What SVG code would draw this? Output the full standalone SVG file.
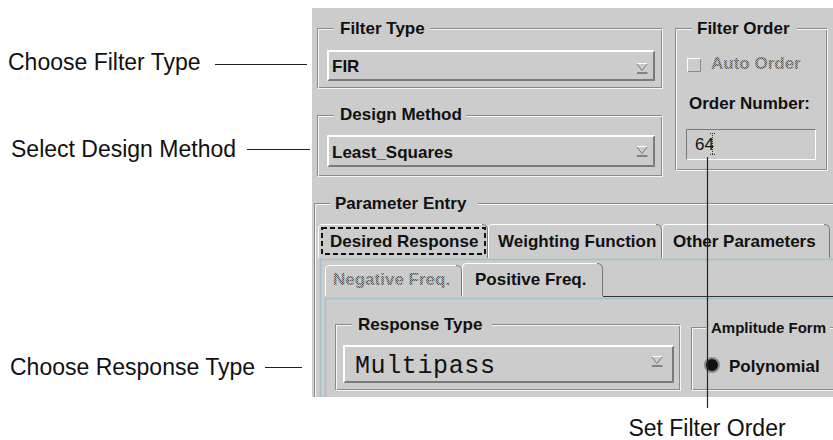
<svg xmlns="http://www.w3.org/2000/svg" width="833" height="440" viewBox="0 0 833 440">
<style>
.lbl{font-family:"Liberation Sans",Arial,sans-serif;font-size:23px;fill:#111}
.ui{font-family:"Liberation Sans",Arial,sans-serif;font-size:17px;font-weight:bold;fill:#111}
.uin{font-family:"Liberation Sans",Arial,sans-serif;font-size:17px;fill:#111}
.gray{font-family:"Liberation Sans",Arial,sans-serif;font-size:17px;font-weight:bold;fill:url(#stip)}
.mono{font-family:"Liberation Mono","Courier New",monospace;font-size:25px;fill:#111}
.ed{fill:none;stroke:#8a8a8a;stroke-width:1}
.el{fill:none;stroke:#f6f6f6;stroke-width:1}
.hi{fill:none;stroke:#ffffff;stroke-width:1}
.sh{fill:none;stroke:#7a7a7a;stroke-width:1}
.bg{fill:#cccccc}
.blue{fill:none;stroke:#a3c0cc;stroke-width:1.5}
.conn{fill:none;stroke:#222;stroke-width:1.2}
</style>
<defs>
<pattern id="stip" width="2" height="2" patternUnits="userSpaceOnUse">
<rect width="2" height="2" fill="#b0b0b0"/>
<rect width="1" height="1" fill="#555"/>
<rect x="1" y="1" width="1" height="1" fill="#555"/>
</pattern>
<g id="arrow">
<path d="M0,0 H11 L5.5,7 Z" fill="none" stroke="#7a7a7a"/>
<path d="M0,0 H11" stroke="#fff"/>
<path d="M0.5,9.5 H11" stroke="#6a6a6a" stroke-width="1.5"/>
</g>
</defs>

<rect x="312" y="8" width="521" height="389" class="bg"/>

<g id="filter-type">
<rect x="317.5" y="28.5" width="344" height="59" class="ed"/>
<rect x="318.5" y="29.5" width="344" height="59" class="el"/>
<rect x="334" y="20" width="96" height="16" class="bg"/>
<text x="340" y="34" class="ui">Filter Type</text>
<rect x="327" y="50" width="328" height="31" class="bg"/>
<path d="M327.5,80.5 V50.5 H654.5 M328.5,79.5 V51.5 H653.5" class="hi"/>
<path d="M328,80.5 H654.5 V51 M329,79.5 H653.5 V52" class="sh"/>
<text x="332" y="72" class="ui">FIR</text>
<use href="#arrow" x="636.5" y="63.5"/>
</g>

<g id="design-method">
<rect x="317.5" y="115.5" width="344" height="60" class="ed"/>
<rect x="318.5" y="116.5" width="344" height="60" class="el"/>
<rect x="334" y="106" width="132" height="16" class="bg"/>
<text x="340" y="120" class="ui">Design Method</text>
<rect x="327" y="135" width="328" height="32" class="bg"/>
<path d="M327.5,166.5 V135.5 H654.5 M328.5,165.5 V136.5 H653.5" class="hi"/>
<path d="M328,166.5 H654.5 V136 M329,165.5 H653.5 V137" class="sh"/>
<text x="332" y="158" class="ui">Least_Squares</text>
<use href="#arrow" x="636.5" y="146.5"/>
</g>

<g id="filter-order">
<rect x="675.5" y="28.5" width="151" height="141" class="ed"/>
<rect x="676.5" y="29.5" width="151" height="141" class="el"/>
<rect x="692" y="20" width="105" height="16" class="bg"/>
<text x="697" y="34" class="ui">Filter Order</text>
<rect x="687" y="58" width="14" height="14" class="bg"/>
<path d="M687.5,71.5 V58.5 H700.5" stroke="#fff" fill="none"/>
<path d="M688,71.5 H700.5 V59" stroke="#8a8a8a" fill="none"/>
<text x="711" y="69" class="gray">Auto Order</text>
<text x="689" y="109" class="ui">Order Number:</text>
<rect x="686" y="129" width="130" height="31" class="bg"/>
<path d="M686.5,159.5 V129.5 H815.5" class="sh"/>
<path d="M687,159.5 H815.5 V130" class="hi"/>
<text x="695" y="150" class="uin">64</text>
<path d="M712.5,133 V155 M710,133.5 H715 M710,154.5 H715" stroke="#333" stroke-dasharray="1,1" fill="none"/>
</g>

<g id="parameter-entry">
<path d="M314.5,397 V203.5 H833" class="ed"/>
<path d="M315.5,397 V204.5 H833" class="el"/>
<rect x="330" y="195" width="148" height="16" class="bg"/>
<text x="335" y="209" class="ui">Parameter Entry</text>
</g>

<g id="tabs-main">
<path d="M318.5,258 V228 Q318.5,224.5 322,224.5 H482" class="hi"/>
<path d="M482,224.5 Q487.5,224.5 487.5,230 V258" class="sh"/>
<path d="M488.5,258 V228 Q488.5,224.5 492,224.5 H656" class="hi"/>
<path d="M656,224.5 Q661.5,224.5 661.5,230 V258" class="sh"/>
<path d="M662.5,258 V228 Q662.5,224.5 666,224.5 H824" class="hi"/>
<path d="M824,224.5 Q829.5,224.5 829.5,230 V258" class="sh"/>
<rect x="322" y="228" width="163" height="26" fill="none" stroke="#111" stroke-width="2" stroke-dasharray="5,3"/>
<text x="330" y="247" class="ui">Desired Response</text>
<text x="498" y="247" class="ui">Weighting Function</text>
<text x="673" y="247" class="ui">Other Parameters</text>
<path d="M320,259.5 H833 M320.5,259 V397" class="blue"/>
</g>

<g id="tabs-freq">
<path d="M325.5,296 V269 Q325.5,265.5 329,265.5 H456" class="hi"/>
<path d="M456,265.5 Q461.5,265.5 461.5,271 V296" class="sh"/>
<path d="M462.5,296 V267 Q462.5,263.5 466,263.5 H597" class="hi"/>
<path d="M597,263.5 Q602.5,263.5 602.5,269 V296" class="sh"/>
<text x="333" y="285" class="gray">Negative Freq.</text>
<text x="475" y="285" class="ui">Positive Freq.</text>
<path d="M603,296.5 H833" stroke="#333" fill="none"/>
<path d="M325,298.5 H833 M325.5,298 V397" class="blue"/>
</g>

<g id="response-type">
<rect x="335.5" y="324.5" width="344" height="65" class="ed"/>
<rect x="336.5" y="325.5" width="344" height="65" class="el"/>
<rect x="352" y="316" width="140" height="16" class="bg"/>
<text x="358" y="330" class="ui">Response Type</text>
<rect x="343" y="345" width="331" height="38" class="bg"/>
<path d="M343.5,382.5 V345.5 H673.5 M344.5,381.5 V346.5 H672.5" class="hi"/>
<path d="M344,382.5 H673.5 V346 M345,381.5 H672.5 V347" class="sh"/>
<text x="355" y="373" class="mono" textLength="140">Multipass</text>
<use href="#arrow" x="651.5" y="356.5"/>
</g>

<g id="amplitude-form">
<path d="M833,327.5 H691.5 V389.5 H833" class="ed"/>
<path d="M833,328.5 H692.5 V390.5 H833" class="el"/>
<rect x="706" y="319" width="124" height="16" class="bg"/>
<text x="711" y="333" class="ui" style="font-size:15px">Amplitude Form</text>
<circle cx="712" cy="365" r="7" fill="#111" stroke="#888" stroke-width="2"/>
<text x="729" y="372" class="ui">Polynomial</text>
</g>

<g id="labels">
<text x="8" y="70" class="lbl">Choose Filter Type</text>
<text x="11" y="157" class="lbl">Select Design Method</text>
<text x="10" y="375" class="lbl">Choose Response Type</text>
<text x="707" y="436" class="lbl" text-anchor="middle">Set Filter Order</text>
</g>

<g id="connectors">
<line x1="215" y1="64.5" x2="307" y2="64.5" class="conn"/>
<line x1="247" y1="149.5" x2="310" y2="149.5" class="conn"/>
<line x1="265" y1="367.5" x2="302" y2="367.5" class="conn"/>
<line x1="707.5" y1="157" x2="707.5" y2="408" class="conn"/>
</g>
</svg>
